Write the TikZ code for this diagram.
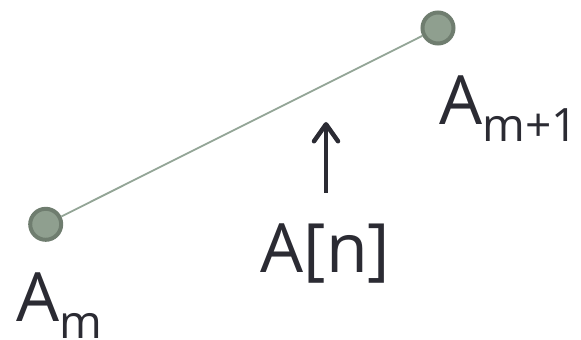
\documentclass[tikz,border=0pt]{standalone}
\usepackage{fontspec}
\setmainfont{Open Sans}
\usetikzlibrary{arrows.meta}
\definecolor{dotfill}{HTML}{8F9F8F}
\definecolor{dotline}{HTML}{6F7D6F}
\definecolor{segline}{HTML}{93A596}
\definecolor{inkdark}{HTML}{2B2B33}
\newcommand{\bigtext}{\fontsize{68}{74}\selectfont}
\newcommand{\subtext}[1]{\raisebox{-17pt}{\fontsize{46}{50}\selectfont #1}}
\begin{document}
\begin{tikzpicture}[x=1pt,y=1pt,
    dot/.style={circle, fill=dotfill, draw=dotline, line width=4pt, minimum size=31pt, inner sep=0pt},
    lbl/.style={text=inkdark, inner sep=0pt, anchor=base, font=\bigtext}]
  \useasboundingbox (0,0) rectangle (581,340);

  % the two end points
  \node[dot] (am) at (45.7,115.7) {};
  \node[dot] (amn) at (438,312) {};

  % segment between them
  \draw[segline, line width=1.8pt] (am) -- (amn);

  % labels
  \node[lbl] (lam) at (59,18.3) {A\subtext{m}};
  \node[lbl] (lamn) at (509,215) {A\subtext{m+1}};
  \node[lbl] (an) at (325.5,67) {A[n]};

  % arrow up to the segment
  \coordinate (arrbot) at (326,147);
  \coordinate (arrtop) at (326,218);
  \draw[inkdark, line width=4pt, -{Straight Barb[length=17pt,width=24pt,round,line width=4.5pt]}] (arrbot) -- (arrtop);
\end{tikzpicture}
\end{document}
